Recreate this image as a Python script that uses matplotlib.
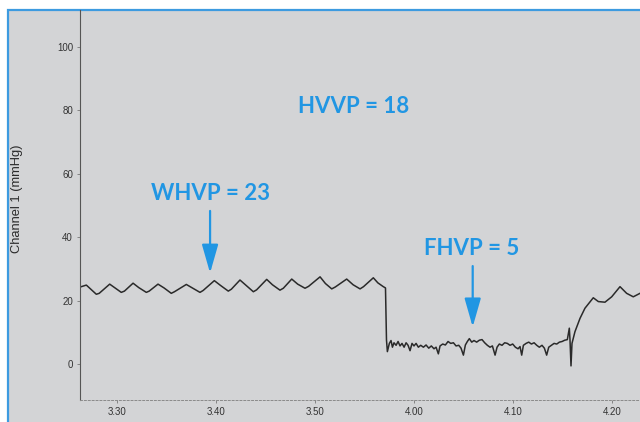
import matplotlib
matplotlib.use("Agg")
import matplotlib.pyplot as plt
from matplotlib.patches import Rectangle

# ---- data (time in seconds, pressure in mmHg) ----
whvp_t = [206.39, 206.90, 207.35, 207.91, 208.20, 209.26, 209.80, 210.43, 210.75, 211.62,
          212.20, 212.96, 213.25, 214.14, 214.75, 215.48, 215.80, 217.00, 217.60, 218.38,
          218.70, 219.83, 220.45, 221.24, 221.55, 222.42, 223.00, 223.77, 224.10, 225.12,
          225.70, 226.46, 226.80, 227.65, 228.25, 228.99, 229.35, 230.51, 231.05, 231.69,
          232.05, 233.20, 233.85, 234.55, 234.90, 235.89, 236.35, 236.90, 237.12]
whvp_v = [24.4, 24.9, 23.6, 22.0, 22.3, 25.2, 24.0, 22.6, 23.0, 25.5,
          24.1, 22.6, 23.0, 25.2, 24.0, 22.3, 22.8, 25.1, 24.0, 22.6,
          23.2, 26.3, 24.8, 23.0, 23.6, 26.5, 24.9, 22.8, 23.4, 26.7,
          25.0, 23.3, 23.9, 26.8, 25.2, 23.9, 24.5, 27.5, 25.4, 23.7,
          24.3, 26.8, 25.0, 23.7, 24.4, 27.2, 25.6, 24.4, 24.0]

fhvp_t = [237.22, 237.31, 237.51, 237.68, 237.82, 237.98, 238.19, 238.39, 238.59, 238.79,
          239.00, 239.20, 239.40, 239.60, 239.80, 240.00, 240.21, 240.44, 240.68, 240.95,
          241.22, 241.49, 241.75, 242.02, 242.23, 242.46, 242.63, 242.90, 243.17, 243.44,
          243.71, 243.98, 244.25, 244.52, 244.75, 244.99, 245.19, 245.39, 245.59, 245.83,
          246.06, 246.33, 246.60, 246.87, 247.14, 247.41, 247.68, 247.92, 248.19, 248.39,
          248.62, 248.89, 249.16, 249.43, 249.70, 249.97, 250.24, 250.51, 250.71, 250.88,
          251.05, 251.32, 251.59, 251.86, 252.13, 252.40, 252.66, 252.93, 253.17, 253.40,
          253.61, 253.88, 254.15, 254.42, 254.69, 254.96, 255.22, 255.49, 255.69, 255.76,
          255.86, 255.96]
fhvp_v = [7.6, 3.9, 6.5, 7.4, 5.3, 6.7, 5.9, 7.1, 5.7, 6.5,
          5.3, 6.7, 5.9, 4.2, 6.5, 5.7, 6.5, 5.3, 5.9, 5.3,
          6.0, 5.0, 5.7, 4.8, 5.3, 3.2, 5.7, 6.3, 6.0, 7.1,
          6.5, 6.7, 5.7, 5.9, 5.0, 2.8, 6.0, 7.1, 8.0, 6.9,
          7.4, 6.9, 7.5, 7.7, 6.7, 5.9, 5.3, 5.7, 2.8, 5.3,
          6.3, 5.9, 6.7, 6.5, 5.9, 6.3, 5.3, 4.8, 5.5, 2.8,
          5.9, 6.5, 6.9, 6.3, 6.7, 5.9, 5.3, 5.9, 5.0, 2.8,
          5.3, 5.9, 6.5, 6.3, 6.9, 7.1, 7.5, 7.7, 11.3, 7.5,
          -0.6, 6.5]

hvvp_t = [256.26, 256.77, 257.27, 258.11, 258.62, 259.29, 259.97, 260.81, 261.48, 262.15, 262.83]
hvvp_v = [10.2, 14.4, 17.6, 20.9, 19.7, 19.5, 21.2, 24.4, 22.3, 21.2, 22.3]

xtick_vals = [210, 220, 230, 240, 250, 260]
xtick_labels = ["3.30", "3.40", "3.50", "4.00", "4.10", "4.20"]
ytick_vals = [0, 20, 40, 60, 80, 100]

labels = ["HVVP = 18", "WHVP = 23", "FHVP = 5"]
label_pos = [(233.94, 81.1), (219.4, 53.9), (245.86, 36.6)]
arrows = [((219.4, 48.3), (219.4, 28.7)), ((245.93, 30.9), (245.93, 11.7))]

# ---- figure ----
W, H = 640, 422
fig = plt.figure(figsize=(W / 100, H / 100), dpi=100, facecolor="white")

panel_col = "#d3d4d6"
blue = "#2196e3"
bg = fig.add_axes([0, 0, 1, 1], zorder=-5)
bg.set_axis_off()
bg.set_xlim(0, W)
bg.set_ylim(H, 0)
bg.add_patch(Rectangle((8, 10), W + 20, H + 20, facecolor=panel_col,
                       edgecolor="#3d9be0", lw=1.6))

ax = fig.add_axes([80 / W, 1 - 400 / H, 1 - 80 / W, 390 / H], zorder=1)
ax.set_facecolor("none")

t = whvp_t + fhvp_t + hvvp_t
v = whvp_v + fhvp_v + hvvp_v
ax.plot(t, v, color="#2a2a2a", lw=1.1, solid_joinstyle="round", clip_on=False)

ax.set_xlim(206.26, 262.83)
ax.set_ylim(-11.36, 111.7)

for s in ["top", "right"]:
    ax.spines[s].set_visible(False)
ax.spines["left"].set_color("#555555")
ax.spines["left"].set_linewidth(0.8)
ax.spines["bottom"].set_color("#8a8a8a")
ax.spines["bottom"].set_linewidth(0.7)
ax.spines["bottom"].set_linestyle((0, (2, 2)))

ax.set_xticks(xtick_vals)
ax.set_xticklabels(xtick_labels)
ax.set_yticks(ytick_vals)
ax.tick_params(axis="both", length=2, width=0.6, color="#777777", pad=3,
               labelsize=7, labelcolor="#333333")
for lab in ax.get_xticklabels() + ax.get_yticklabels():
    lab.set_fontfamily("Liberation Sans")

fig.text(17 / W, 1 - 199 / H, "Channel 1 (mmHg)", rotation=90, ha="center", va="center",
         fontsize=9.3, color="#2a2a2a", family="Liberation Sans")

for txt, (x, y) in zip(labels, label_pos):
    ax.text(x, y, txt, ha="center", va="center", fontsize=16, color=blue,
            family="Lato", fontweight="bold")

for (x0, y0), (x1, y1) in arrows:
    ax.annotate("", xy=(x1, y1), xytext=(x0, y0),
                arrowprops=dict(arrowstyle="-|>,head_length=1.75,head_width=0.5",
                                color=blue, lw=1.6, shrinkA=0, shrinkB=0))

fig.savefig("out.png", dpi=100, facecolor="white")
